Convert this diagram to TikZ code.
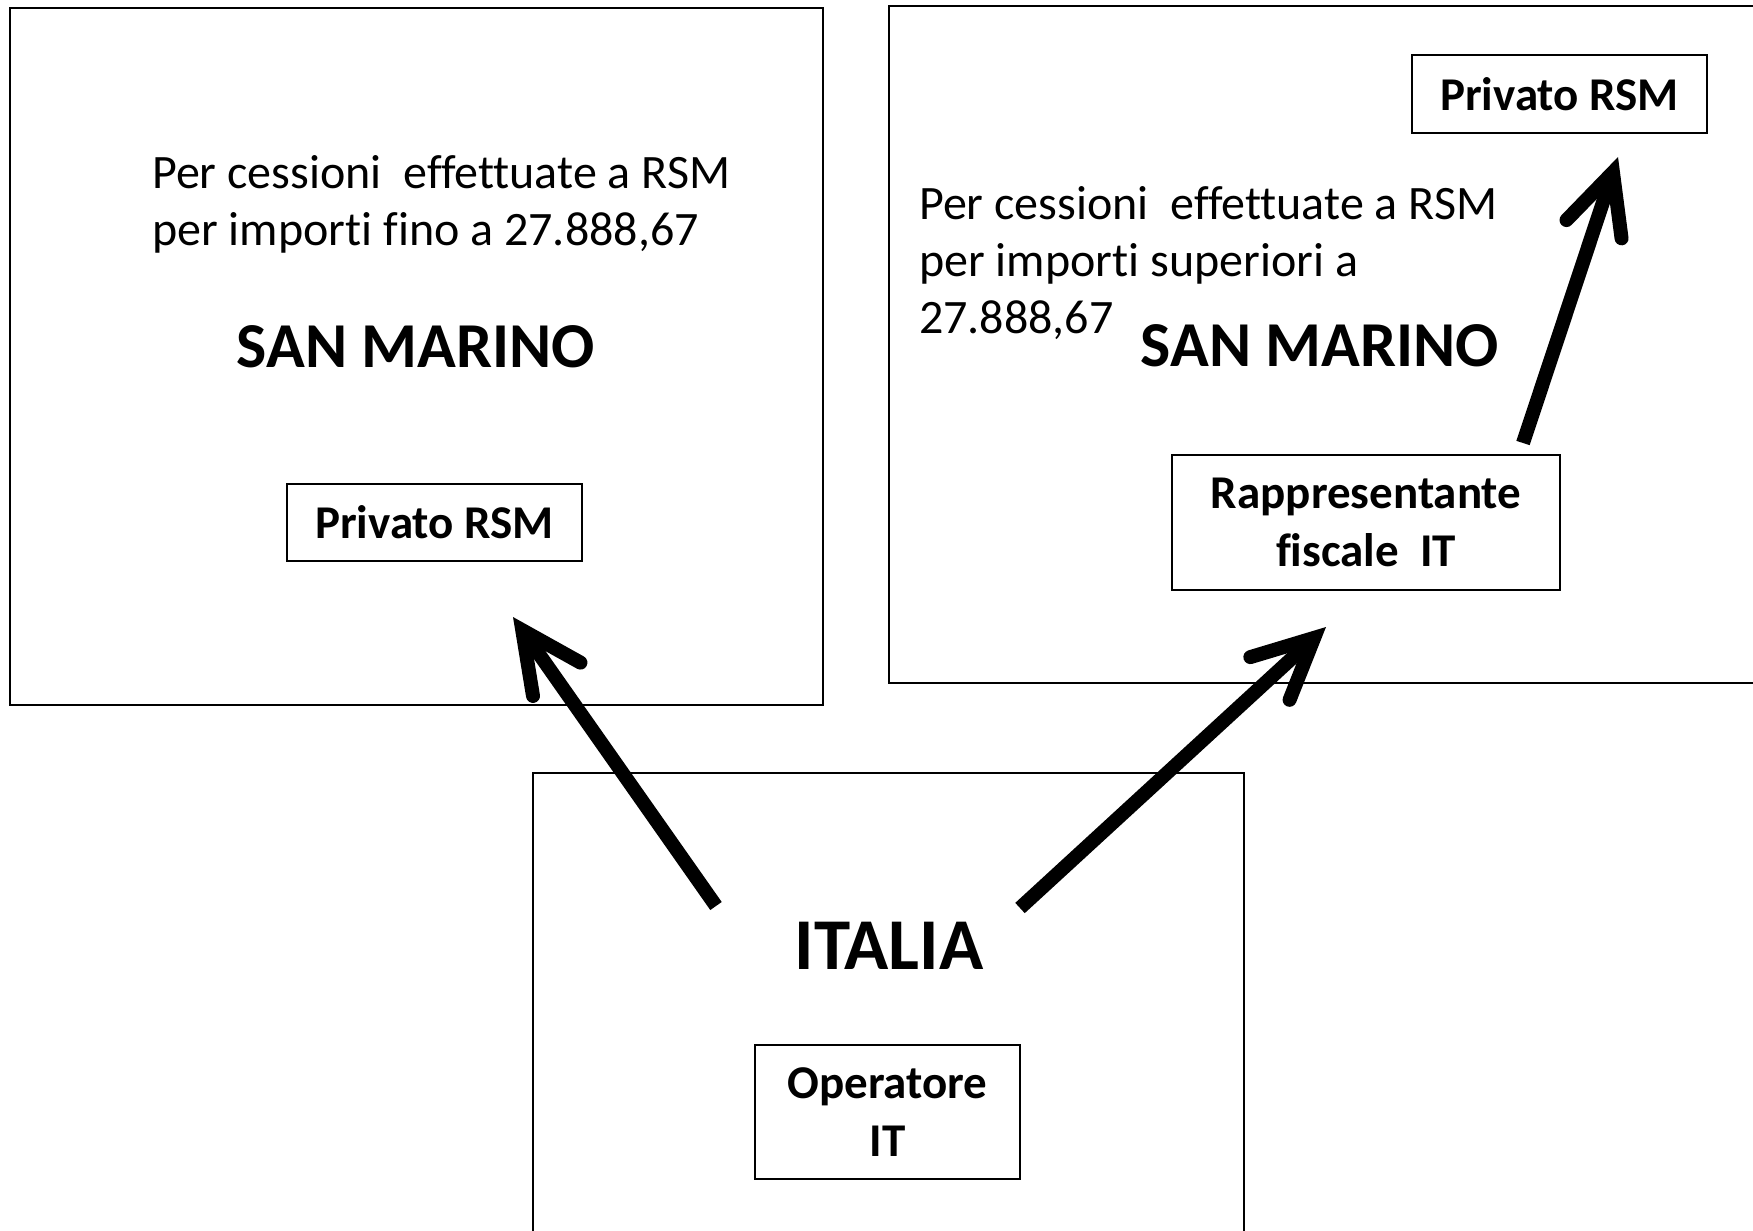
\documentclass[tikz,border=0pt]{standalone}
\usepackage{fontspec}
\setmainfont{Carlito}[Ligatures=NoCommon]
\usetikzlibrary{arrows.meta}
\begin{document}
\begin{tikzpicture}[x=1pt,y=-1pt,
  region/.style={draw=black, line width=1.8pt},
  actor/.style={draw=black, line width=1.8pt, inner sep=0pt, align=center,
    font=\fontsize{47}{58}\selectfont\bfseries},
  note/.style={inner sep=0pt, align=left, font=\fontsize{48}{57}\selectfont},
  country/.style={inner sep=0pt, font=\fontsize{64}{70}\selectfont\bfseries},
  flow/.style={line width=14pt, -{Straight Barb[length=60pt, width=58pt, line cap=round, line join=miter]}}
]
\clip (0,0) rectangle (1753,1231);
\fill[white] (0,0) rectangle (1753,1231);

% country areas
\draw[region] (10,8) rectangle (823,705);
\draw[region] (889,6) rectangle (1770,683);
\draw[region] (533,773) rectangle (1244,1250);

% left area: small amounts (anchor on the last line's baseline)
\node[note, anchor=base west] (noteL) at (152,245)
  {Per cessioni\ \ effettuate a RSM\\per importi fino a 27.888,67};
\node[country, anchor=base] (smL) at (416,367) {SAN MARINO};
\node[actor, minimum width=295pt, minimum height=77pt] (privL) at (434.5,522.5) {Privato RSM};

% right area: larger amounts
\node[note, anchor=base west] (noteR) at (919,333)
  {Per cessioni\ \ effettuate a RSM\\per importi superiori a\\27.888,67};
\node[country, anchor=base] (smR) at (1320,366) {SAN MARINO};
\node[actor, minimum width=295pt, minimum height=78pt] (privR) at (1559.5,94) {Privato RSM};
\node[actor, minimum width=388pt, minimum height=135pt] (rapp) at (1366,522.5)
  {Rappresentante\\fiscale\ \ IT};

% Italian side
\node[inner sep=0pt, font=\fontsize{73}{80}\selectfont\bfseries, anchor=base] (it) at (889,969) {ITALIA};
\node[actor, minimum width=265pt, minimum height=134pt] (oper) at (887.5,1112)
  {Operatore\\IT};

% arrow ends
\coordinate (a1s) at (716,906);
\coordinate (a1e) at (513,617);
\coordinate (a2s) at (1020,908);
\coordinate (a2e) at (1326,627);
\coordinate (a3s) at (1523,443);
\coordinate (a3e) at (1618,157);

\draw[flow] (a1s) -- (a1e);
\draw[flow] (a2s) -- (a2e);
\draw[flow] (a3s) -- (a3e);
\end{tikzpicture}
\end{document}
